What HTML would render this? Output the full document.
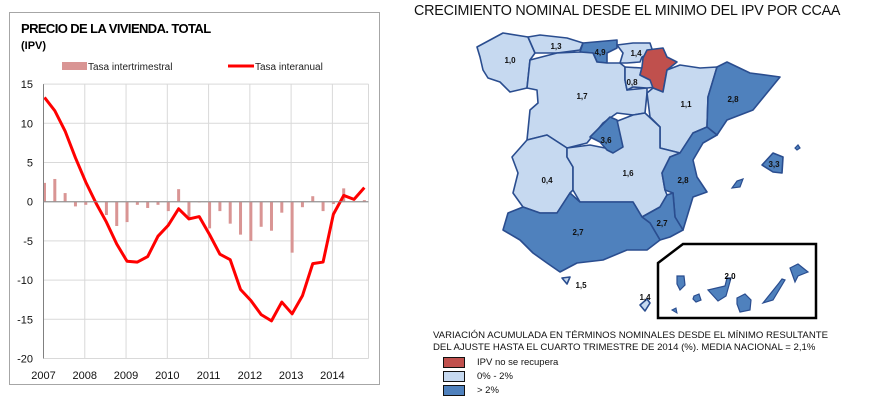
<!DOCTYPE html>
<html><head><meta charset="utf-8"><style>
body{margin:0;width:891px;height:411px;background:#fff;overflow:hidden;font-family:"Liberation Sans",sans-serif}
svg{position:absolute;left:0;top:0}
</style></head><body>
<svg id="s" width="891" height="411" xmlns="http://www.w3.org/2000/svg">
<rect x="9.5" y="12.5" width="370" height="372" fill="#fff" stroke="#a6a6a6"/>
<text x="21" y="33" font-size="13" font-weight="bold" letter-spacing="-0.6">PRECIO DE LA VIVIENDA. TOTAL</text>
<text x="21" y="49" font-size="11" font-weight="bold">(IPV)</text>
<g>
<rect x="62" y="62" width="25" height="8" fill="#d99594"/>
<text x="88" y="70" font-size="10" fill="#222">Tasa intertrimestral</text>
<line x1="228" y1="66" x2="254" y2="66" stroke="#f00" stroke-width="3"/>
<text x="255" y="70" font-size="10" fill="#222">Tasa interanual</text>
</g>
<g id="grid"></g><g id="bars"></g><g id="line"></g><g id="axes"></g>
<g id="map"></g>
</svg>
<script>
const years=["2007","2008","2009","2010","2011","2012","2013","2014"];
const yTicks=[15,10,5,0,-5,-10,-15,-20];
const intertrimestral=[2.4,2.9,1.1,-0.6,-0.4,0.1,-1.7,-3.1,-2.6,-0.4,-0.8,-0.4,-1.2,1.6,-2.3,-0.1,-3.4,-1.2,-2.8,-4.2,-5.0,-3.2,-3.7,-1.4,-6.5,-0.7,0.7,-1.2,-0.3,1.7,0.0,0.2];
const interanual=[13.3,11.6,9.0,5.6,2.5,-0.2,-2.6,-5.4,-7.6,-7.7,-7.0,-4.4,-3.0,-0.9,-2.2,-1.9,-4.2,-6.7,-7.4,-11.2,-12.6,-14.4,-15.2,-12.8,-14.3,-12.0,-7.9,-7.7,-1.6,0.8,0.3,1.8];
const NS="http://www.w3.org/2000/svg";
const X0=43.5,X1=368.5,Q=(X1-X0)/31.5;
const xq=i=>X0+1+i*Q;
const yv=v=>201.7-v*7.84;
function mk(t,a,p){const e=document.createElementNS(NS,t);for(const k in a)e.setAttribute(k,a[k]);p.appendChild(e);return e;}
const G=document.getElementById('grid'),B=document.getElementById('bars'),L=document.getElementById('line'),A=document.getElementById('axes');
yTicks.forEach(v=>{
 const l=mk('line',{x1:X0,x2:X1,y1:yv(v),y2:yv(v),stroke:v===0?'#a0a0a0':'#d9d9d9'},G);
 
 
 const t=mk('text',{x:33,y:yv(v)+4,'font-size':11,'text-anchor':'end',fill:'#111'},A);t.textContent=v;
 
 
});
years.forEach((y,i)=>{
 const x=X0+i*4*Q;
 const l=mk('line',{x1:x,x2:x,y1:yv(15),y2:yv(-20),stroke:'#d9d9d9'},G);
 
 
 const t=mk('text',{x:x,y:379,'font-size':11,'text-anchor':'middle',fill:'#111'},A);t.textContent=y;
 
 
});
const rl=mk('line',{x1:X1,x2:X1,y1:yv(15),y2:yv(-20),stroke:'#d9d9d9'},G);


const ax=mk('line',{x1:X0,x2:X0,y1:yv(15),y2:yv(-20),stroke:'#808080'},A);


const zx=mk('line',{x1:X0,x2:X1,y1:yv(0),y2:yv(0),stroke:'#909090'},A);


intertrimestral.forEach((v,i)=>{
 const r=mk('rect',{x:xq(i)-1.5,width:3,y:Math.min(yv(v),yv(0)),height:Math.abs(yv(v)-yv(0)),fill:'#d99594'},B);
 
 
});
const p=mk('polyline',{points:interanual.map((v,i)=>xq(i)+','+yv(v)).join(' '),fill:'none',stroke:'#f00','stroke-width':3,'stroke-linejoin':'round'},L);



// Map
const M=document.getElementById('map');
const LB='#c6d9f0',DB='#4f81bd',RD='#c0504d',ST='#2a4d8f';
const regions=[
["galicia",LB,"477,47 503,33 528,37 535,53 530,60 527,88 510,92 500,82 488,78 483,70 480,57","1,0",510,60],
["asturias",LB,"528,37 540,35 567,38 583,43 580,50 557,53 535,53","1,3",556,46],
["cantabria",DB,"583,43 617,40 617,48 607,53 607,63 597,62 593,53 580,52","4,9",600,52],
["castilla-leon",LB,"530,60 557,53 580,52 593,53 597,62 607,63 620,63 625,67 625,80 627,90 647,88 647,93 645,113 633,115 617,113 603,123 587,143 567,148 547,135 527,140 530,110 538,103 537,90 527,88","1,7",582,96],
["pais-vasco",LB,"617,45 633,43 650,43 653,52 642,57 640,62 627,63 620,63 623,53","1,4",636,53],
["la-rioja",LB,"625,67 642,68 640,75 650,80 657,87 647,88 633,87 627,90 625,80","0,8",632,82],
["navarra",RD,"647,50 663,48 667,57 677,62 667,70 663,92 653,88 650,80 640,75 642,67 643,58","",0,0],
["aragon",LB,"653,88 663,92 667,70 680,65 700,68 717,67 708,97 707,127 693,133 680,153 660,148 660,127 650,117 647,93","1,1",686,104],
["cataluna",DB,"717,67 727,62 750,73 780,77 753,110 727,120 717,135 707,127 708,97","2,8",733,99],
["extremadura",LB,"512,157 527,140 547,135 567,148 567,157 573,167 573,190 570,193 557,213 540,213 523,207 513,193 518,173","0,4",547,180],
["castilla-mancha",LB,"567,148 590,145 605,148 617,140 615,122 633,115 645,113 660,127 660,148 680,153 670,157 662,173 665,190 667,195 660,207 642,217 633,202 580,202 573,190 573,167 567,157","1,6",628,173],
["madrid",DB,"590,137 610,117 617,120 623,147 613,153 607,150 600,142","3,6",606,140],
["valencia",DB,"707,127 717,135 703,143 693,160 697,177 707,192 693,197 683,230 675,217 673,193 665,190 662,173 670,157 680,153 693,133","2,8",683,180],
["murcia",DB,"673,193 675,217 683,230 670,237 660,240 650,223 642,217 660,207 667,195","2,7",662,223],
["andalucia",DB,"508,213 523,207 540,213 557,213 570,193 580,202 633,202 642,217 650,223 660,240 647,250 627,250 603,260 577,263 560,272 547,263 533,253 520,240 503,230","2,7",578,232],
["baleares",DB,"762,165 773,153 783,157 782,173 773,172","3,3",774,164],
["ceuta",LB,"562,278 570,277 567,284","1,5",581,285],
["melilla",LB,"640,305 647,299 650,303 645,311","1,4",645,297],
];
regions.forEach(r=>{
 const g=mk('g',{},M);
 
 
 mk('polygon',{points:r[2],fill:r[1],stroke:ST,'stroke-width':1.6,'stroke-linejoin':'round'},g);
 if(r[3]){const t=mk('text',{x:r[4],y:r[5]+3,'font-size':8,'font-weight':'bold','text-anchor':'middle',fill:'#111'},g);t.textContent=r[3];}
});
const small=[["ibiza","732,188 737,181 743,179 740,187"],["menorca","795,148 798,145 800,148 797,150"]];
small.forEach(s=>{const e=mk('polygon',{points:s[1],fill:DB,stroke:ST,'stroke-width':1.2},M);
 
 });
const box=mk('polygon',{points:"658,263 683,244 816,244 816,318 658,318",fill:'none',stroke:'#000','stroke-width':2.5},M);


const can=["677,276 684,276 685,285 680,290 677,284","694,296 699,294 701,300 696,302 693,299","708,290 725,286 727,278 731,278 726,296 718,301","737,298 745,294 751,300 750,310 740,312 737,304","782,279 785,280 773,300 763,303 779,283","790,268 798,264 808,272 798,276 795,282"];
can.forEach(pts=>{const e=mk('polygon',{points:pts,fill:DB,stroke:ST,'stroke-width':1.2},M);
 
 });
const ct=mk('text',{x:730,y:279,'font-size':8,'font-weight':'bold','text-anchor':'middle'},M);ct.textContent='2,0';


const hp=mk('polygon',{points:"672,310 676,308 677,313",fill:DB,stroke:ST},M);


</script>
<div style="position:absolute;left:414px;top:3px;font-size:14.3px;letter-spacing:-0.2px;color:#111;white-space:nowrap">CRECIMIENTO NOMINAL DESDE EL MINIMO DEL IPV POR CCAA</div>
<div style="position:absolute;left:433px;top:330px;font-size:9.6px;line-height:11.5px;color:#111;white-space:nowrap">VARIACIÓN ACUMULADA EN TÉRMINOS NOMINALES DESDE EL MÍNIMO RESULTANTE<br>DEL AJUSTE HASTA EL CUARTO TRIMESTRE DE 2014 (%). MEDIA NACIONAL = 2,1%</div>
<div style="position:absolute;left:443px;top:355px;font-size:9.5px;color:#111">
<div style="height:14px;display:flex;align-items:center"><span style="width:20px;height:9px;background:#c0504d;border:1.5px solid #111;margin-right:12px"></span>IPV no se recupera</div>
<div style="height:14px;display:flex;align-items:center"><span style="width:20px;height:9px;background:#c6d9f0;border:1.5px solid #111;margin-right:12px"></span>0% - 2%</div>
<div style="height:14px;display:flex;align-items:center"><span style="width:20px;height:9px;background:#4f81bd;border:1.5px solid #111;margin-right:12px"></span>&gt; 2%</div>
</div>
</body></html>
